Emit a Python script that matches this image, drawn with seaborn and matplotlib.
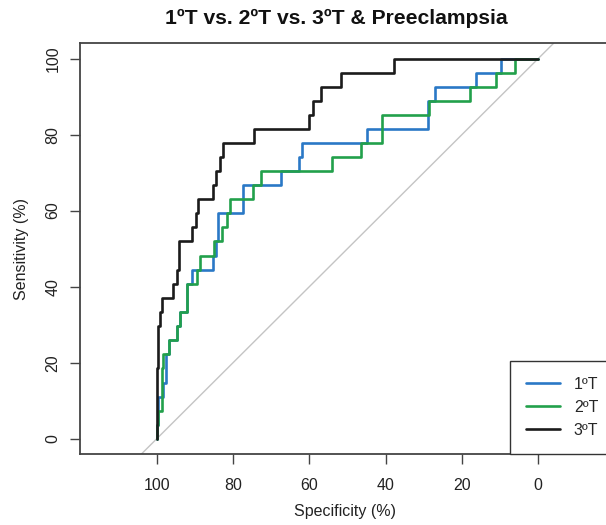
import matplotlib
matplotlib.use("Agg")
import matplotlib.pyplot as plt
import seaborn as sns
import pandas as pd

# ROC corner points (specificity %, sensitivity %)
spec_1T = [100, 100, 99.6, 98.3, 97.6, 96.7, 94.6, 93.9, 92.0, 90.8, 85.2, 84.5, 84.0,
           77.5, 67.3, 62.6, 62.0, 44.8, 29.0, 27.1, 16.4, 9.8, 0]
sens_1T = [0, 3.7, 11.1, 14.8, 22.2, 25.9, 29.6, 33.3, 40.7, 44.4, 48.1, 51.9, 59.3,
           66.7, 70.4, 74.1, 77.8, 81.5, 88.9, 92.6, 96.3, 100, 100]

spec_2T = [100, 100, 99.6, 98.7, 98.3, 96.7, 94.6, 93.9, 92.1, 89.4, 88.7, 85.0, 83.0,
           81.7, 80.8, 74.7, 72.7, 54.1, 46.5, 41.0, 28.6, 17.9, 11.2, 6.1, 0]
sens_2T = [0, 3.7, 7.4, 18.5, 22.2, 25.9, 29.6, 33.3, 40.7, 44.4, 48.1, 51.9, 55.6,
           59.3, 63.0, 66.7, 70.4, 74.1, 77.8, 85.2, 88.9, 92.6, 96.3, 100, 100]

spec_3T = [100, 100, 99.6, 99.1, 98.7, 95.8, 94.8, 94.1, 90.8, 89.7, 89.1, 85.2, 84.5,
           83.4, 82.5, 74.5, 60.0, 59.1, 57.0, 51.8, 37.7, 0]
sens_3T = [0, 18.5, 29.6, 33.3, 37.0, 40.7, 44.4, 51.9, 55.6, 59.3, 63.0, 66.7, 70.4,
           74.1, 77.8, 81.5, 85.2, 88.9, 92.6, 96.3, 100, 100]

series_names = ["1ºT", "2ºT", "3ºT"]
series_colors = ["#2a78c6", "#22a04b", "#1b1b1b"]
x_ticks = [100, 80, 60, 40, 20, 0]
y_ticks = [0, 20, 40, 60, 80, 100]
title = "1ºT vs. 2ºT vs. 3ºT & Preeclampsia"

frames = []
for name, sp, se in zip(series_names, [spec_1T, spec_2T, spec_3T], [sens_1T, sens_2T, sens_3T]):
    frames.append(pd.DataFrame({"spec": sp, "sens": se, "group": name}))
df = pd.concat(frames, ignore_index=True)

sns.set_style("white")
plt.rcParams["font.family"] = ["Liberation Sans", "DejaVu Sans"]

fig = plt.figure(figsize=(6.06, 5.25), dpi=100)
ax = fig.add_axes([80 / 606, (525 - 454) / 525, 535 / 606, 410.7 / 525])

# identity line
ax.axline((100, 0), (0, 100), color="#c4c4c4", lw=1.0, zorder=1)

sns.lineplot(data=df, x="spec", y="sens", hue="group", hue_order=series_names,
             palette=dict(zip(series_names, series_colors)), sort=False,
             estimator=None, drawstyle="steps-post", lw=1.9, ax=ax, zorder=3)

ax.set_xlim(120.1, -20.1)
ax.set_ylim(-4, 104)
ax.set_xticks(x_ticks)
ax.set_yticks(y_ticks)
ax.set_xticklabels([str(t) for t in x_ticks])
ax.set_yticklabels([str(t) for t in y_ticks], rotation=90, va="center")
ax.tick_params(axis="both", direction="out", length=7.2, width=1.0, color="#444444",
               labelsize=11.5, labelcolor="#222222", pad=7)
ax.tick_params(axis="x", pad=10)
ax.tick_params(axis="both", bottom=True, left=True)
for s in ax.spines.values():
    s.set_color("#444444")
    s.set_linewidth(1.3)
    s.set_visible(True)

ax.set_xlabel("Specificity (%)", fontsize=11.5, color="#222222")
ax.set_ylabel("Sensitivity (%)", fontsize=11.5, color="#222222")
ax.xaxis.set_label_coords((345 - 80) / 535, (454 - 504) / 410.7)
ax.yaxis.set_label_coords((29 - 80) / 535, 0.5)

ax.set_title(title, fontsize=15.2, fontweight="bold", color="#111111",
             x=(336 - 80) / 535, y=(454 - 27) / 410.7, va="center")

handles, labels = ax.get_legend_handles_labels()
leg = ax.legend(handles, labels, loc="lower left",
                bbox_to_anchor=((510 - 80) / 535, 0), borderaxespad=0,
                fontsize=11.5, frameon=True, fancybox=False, framealpha=1,
                edgecolor="#333333", borderpad=1.0, labelspacing=0.5,
                handlelength=2.1, handletextpad=0.9)
leg.get_frame().set_linewidth(1.0)
for h in leg.get_lines():
    h.set_linewidth(1.9)

fig.savefig("out.png", dpi=100)
